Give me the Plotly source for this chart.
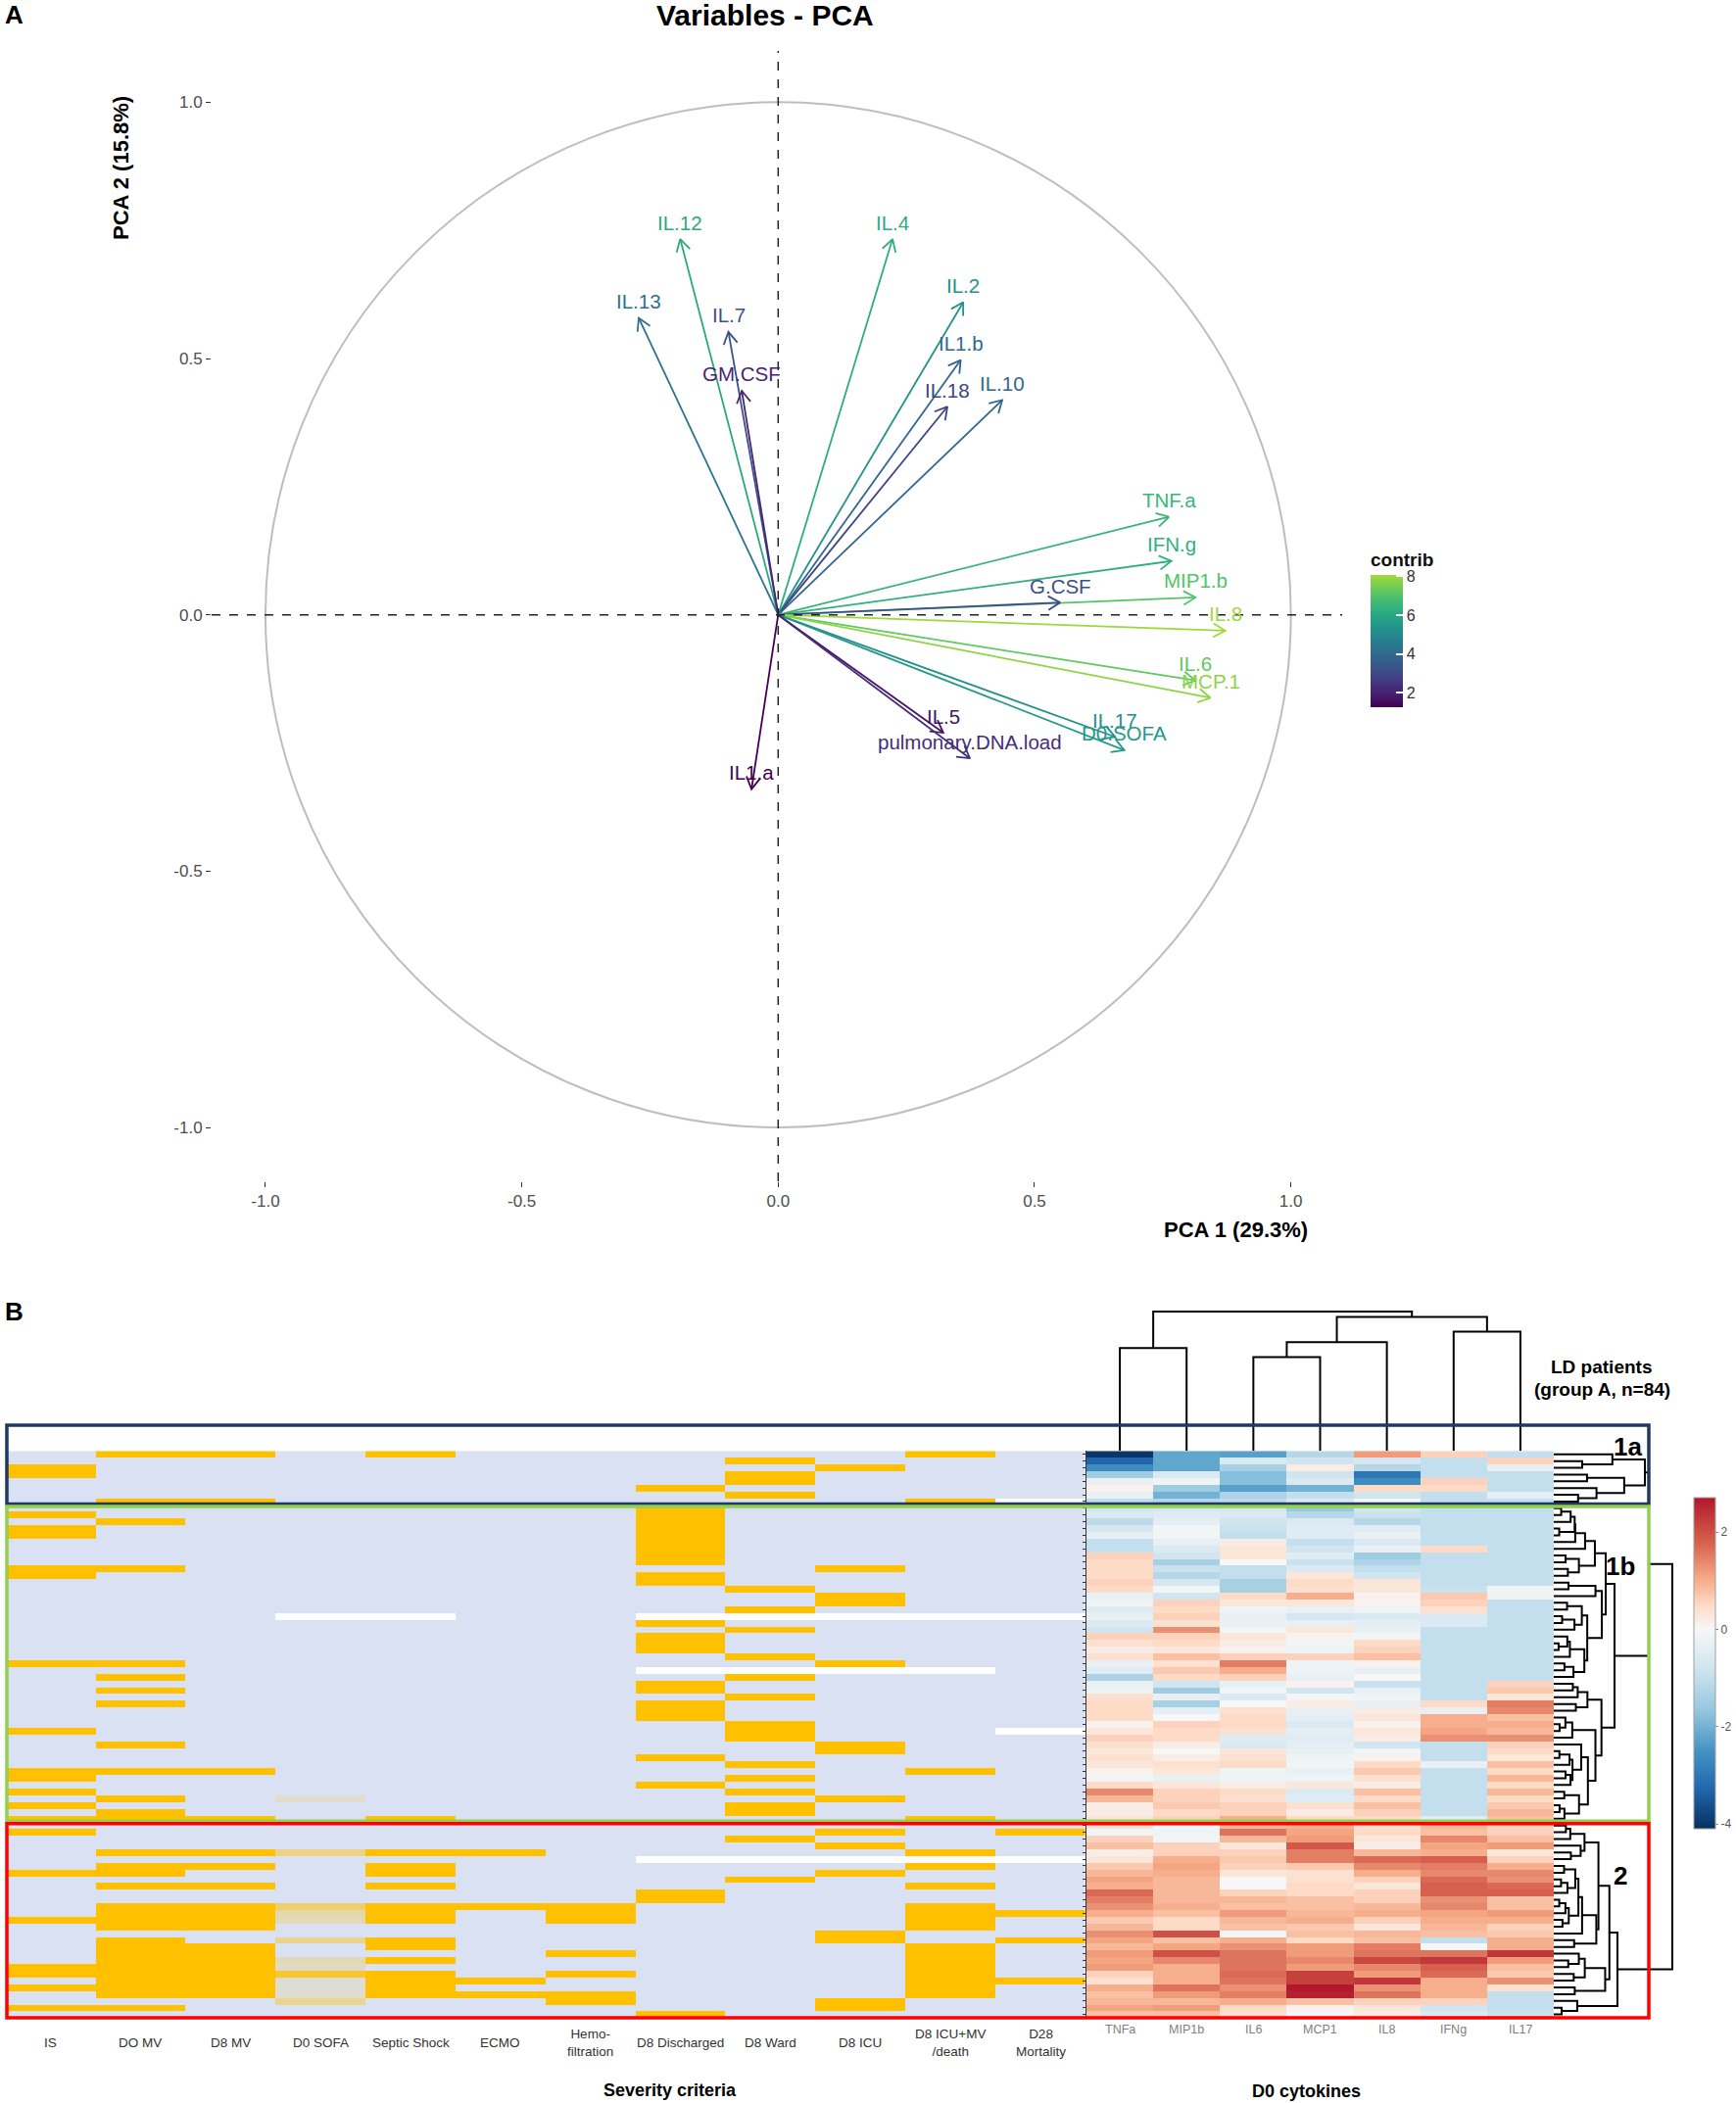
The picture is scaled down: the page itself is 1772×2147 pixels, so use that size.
import numpy as np
import plotly.graph_objects as go
from plotly.colors import sample_colorscale

W, H = 1772, 2147
FONT = "Liberation Sans, Arial, sans-serif"


def px(x):
    return x / W


def py(y):
    return 1 - y / H


# ---------------- Panel A : PCA variables ----------------
pca_vars = ["IL.12", "IL.4", "IL.2", "IL.13", "IL.7", "IL1.b", "GM.CSF", "IL.18", "IL.10",
            "TNF.a", "IFN.g", "MIP1.b", "G.CSF", "IL.8", "IL.6", "MCP.1", "IL.17", "D0.SOFA",
            "IL.5", "pulmonary.DNA.load", "IL1.a"]
pca_dim1 = [-0.191, 0.223, 0.361, -0.272, -0.097, 0.356, -0.071, 0.330, 0.437,
            0.762, 0.767, 0.814, 0.550, 0.872, 0.814, 0.843, 0.657, 0.675,
            0.322, 0.374, -0.052]
pca_dim2 = [0.733, 0.733, 0.610, 0.579, 0.552, 0.497, 0.437, 0.406, 0.419,
            0.191, 0.105, 0.034, 0.024, -0.031, -0.128, -0.162, -0.238, -0.264,
            -0.230, -0.280, -0.340]
pca_contrib = [6.1, 6.2, 5.3, 4.3, 3.3, 3.9, 2.1, 2.9, 3.9,
               6.5, 6.3, 7.0, 3.2, 8.0, 7.2, 7.8, 5.2, 5.5,
               1.7, 2.3, 1.25]
pca_ticks = [-1.0, -0.5, 0.0, 0.5, 1.0]
pca_ticktext = ["-1.0", "-0.5", "0.0", "0.5", "1.0"]
CMIN, CMAX = 1.25, 8.07

# ---------------- Panel B : heatmaps ----------------
severity_cols = ["IS", "DO MV", "D8 MV", "D0 SOFA", "Septic Shock", "ECMO", "Hemo-<br>filtration",
                 "D8 Discharged", "D8 Ward", "D8 ICU", "D8 ICU+MV<br>/death", "D28<br>Mortality"]
IS_pos = [2, 3, 9, 11, 12, 17, 18, 31, 41, 47, 48, 50, 52, 54, 56, 62, 69, 76, 77, 79, 82]
DOMV_pos = [0, 7, 10, 17, 31, 33, 35, 37, 43, 47, 51, 53, 54, 59, 61, 62, 64, 67, 68, 69, 70,
            72, 73, 74, 75, 76, 77, 78, 79, 80, 82]
D8MV_pos = [0, 7, 47, 54, 59, 61, 64, 67, 68, 69, 70, 73, 74, 75, 76, 77, 78, 79, 80]
D0SOFA_val = {51: 0.15, 59: 0.45, 67: 0.55, 68: 0.3, 69: 0.25, 72: 0.4, 75: 0.25, 76: 0.2,
              77: 0.8, 78: 0.12, 79: 0.12, 80: 0.15, 81: 0.4}
SEPTIC_pos = [0, 54, 59, 61, 62, 64, 67, 68, 69, 72, 73, 75, 77, 78, 79, 80]
ECMO_pos = [59, 67, 78, 80]
HEMO_pos = [67, 68, 69, 74, 77, 80, 81]
D8DISCH_pos = [5, 8, 9, 10, 11, 12, 13, 14, 15, 16, 18, 19, 25, 27, 28, 29, 34, 35, 37, 38, 39,
               45, 49, 65, 66, 83]
D8WARD_pos = [1, 3, 4, 6, 20, 23, 26, 30, 33, 36, 40, 41, 42, 46, 48, 50, 52, 53, 57, 63]
D8ICU_pos = [2, 17, 21, 22, 31, 43, 44, 51, 56, 58, 62, 71, 72, 81, 82]
D8ICUMV_pos = [0, 7, 47, 54, 59, 61, 64, 67, 68, 69, 70, 73, 74, 75, 76, 77, 78, 79, 80]
D28_pos = [56, 68, 72, 78]
missing_rows = {"D0 SOFA": [24], "Septic Shock": [24], "D8 Discharged": [24, 32, 60],
                "D8 Ward": [24, 32, 60], "D8 ICU": [24, 32, 60],
                "D8 ICU+MV<br>/death": [24, 32, 60], "D28<br>Mortality": [7, 24, 41, 60]}

cyto_cols = ["TNFa", "MIP1b", "IL6", "MCP1", "IL8", "IFNg", "IL17"]
TNFa = [-4.0, -3.3, -2.6, -1.5, -0.3, 0.1, -0.3, -1.0, -0.8, -0.6, -1.1, -0.7, -0.4, -1.0, -1.0,
        0.6, 0.5, 0.5, 0.5, 0.6, 0.5, -0.3, -0.2, -0.5, -0.3, -0.6, -0.8, 0.6, 0.4, 0.2, 0.4,
        -0.3, -0.5, -1.3, -0.3, -0.2, 0.4, 0.5, 0.5, 0.5, 0.1, 0.3, 0.6, 0.4, 0.3, 0.4, 0.3,
        0.1, -0.1, 0.5, 1.4, 0.9, 0.2, 0.2, 0.3, 0.4, -0.1, 0.6, 0.8, 0.2, 0.3, 0.7, 0.9, 1.1,
        1.0, 1.7, 1.5, 1.3, 1.0, 0.7, 0.9, 1.3, 1.1, 0.9, 1.2, 1.1, 1.2, 0.6, 0.4, 1.0, 0.8,
        0.9, 1.1, 0.8]
MIP1b = [-2.2, -2.2, -2.2, -0.6, -0.2, -1.5, -2.0, -1.2, -0.7, -0.5, -0.4, -0.1, -0.1, -0.3,
         -0.6, -0.8, -1.4, -0.9, -1.2, -0.7, -0.1, -0.8, 0.6, 0.5, 0.6, 0.4, 1.3, 0.6, 0.5, 0.3,
         0.8, 0.4, 0.7, 0.5, -0.8, -1.5, -0.3, -1.4, -0.4, 0.0, 0.6, 0.5, 0.5, 0.2, 0.0, 0.2,
         0.4, 0.3, -0.3, 0.3, 0.6, 0.6, 0.7, 0.5, 0.6, -0.1, -0.2, -0.1, 0.6, 0.6, 1.0, 1.1,
         1.0, 0.9, 0.9, 0.9, 0.9, 1.0, 0.8, 0.5, 0.5, 2.0, 0.8, 1.1, 2.0, 1.4, 1.0, 1.0, 1.0,
         1.6, 1.2, 0.9, 1.2, 0.8]
IL6 = [-2.3, -0.6, -1.4, -1.8, -1.8, -2.3, -1.3, -1.1, -0.7, -0.6, -0.8, -0.9, -1.0, 0.2, 0.3,
       0.3, 0.0, -1.0, -1.0, -1.4, -1.4, 0.5, 0.3, -0.2, -0.3, -0.3, -0.1, 0.3, 0.2, 0.1, 0.6,
       1.5, 1.0, 0.6, -0.3, -0.1, -0.6, 0.0, 0.4, 0.5, 0.5, 0.4, -0.5, -0.6, 0.3, 0.4, 0.5,
       -0.2, -0.2, 0.2, 0.5, 0.4, 0.6, 0.6, 1.0, 0.9, 1.6, 0.9, 0.3, 0.6, 0.7, 0.6, 0.3, 0.0,
       0.0, 0.6, 0.9, 0.8, 1.2, 0.9, 0.8, -0.1, 1.0, 1.3, 1.6, 1.6, 1.6, 1.7, 1.6, 1.3, 1.5,
       1.0, 0.5, 0.4]
MCP1 = [-1.2, -0.8, 0.2, -0.8, -0.6, -2.0, -1.0, -0.6, -1.6, -1.2, -0.6, -0.5, -0.5, -1.0,
        -0.8, -0.5, -0.9, -0.6, 0.3, 0.5, 0.4, 1.0, 0.3, -0.3, -0.7, -0.3, 0.3, 0.1, -0.1, -0.2,
        0.6, -0.2, -0.2, -0.3, 0.1, -0.8, -0.1, 0.2, -0.3, -0.4, -0.6, -0.4, -0.5, -0.4, -0.3,
        -0.2, -0.1, -0.3, -0.2, 0.3, -0.6, -0.5, 0.4, 0.2, 0.5, 1.0, 1.1, 1.2, 1.9, 1.5, 1.5,
        0.7, 0.4, 0.4, 0.5, 0.5, 0.8, 0.8, 0.9, 1.0, 0.7, 0.8, 0.5, 1.2, 1.2, 1.4, 1.2, 2.2,
        2.2, 2.8, 2.6, 0.8, 0.1, 0.0]
IL8 = [1.2, -0.7, -1.2, -3.0, -2.6, 0.5, -0.8, 0.0, -0.8, -0.9, -1.2, -0.5, -0.3, -0.6, -0.3,
       -1.5, -1.3, -1.0, -0.8, 0.3, 0.3, 0.1, 0.1, -0.2, -0.6, -0.4, -0.3, -0.1, 0.5, 0.6, 0.8,
       0.1, -0.3, 0.0, -0.9, -0.3, -0.2, -0.3, 0.2, 0.3, 0.1, 0.3, 0.2, -0.8, -0.1, 0.1, 0.5,
       0.7, 0.4, 0.2, 0.8, 0.5, 0.8, 0.6, 0.5, 0.4, 0.5, 0.3, 0.2, 0.9, 1.7, 1.4, 1.0, 0.6,
       0.3, 0.6, 0.6, 0.9, 1.0, 0.6, 0.3, 0.9, 0.8, 1.5, 1.6, 2.1, 1.4, 1.2, 2.3, 1.3, 1.6,
       0.6, 0.3, 0.2]
IFNg = [0.6, -1.0, -1.0, -1.0, 0.6, 0.5, -1.0, -1.0, -1.0, -1.0, -1.0, -1.0, -1.0, -1.0, 0.5,
        -1.0, -1.0, -1.0, -1.0, -1.0, -0.9, 0.7, 0.6, 0.4, -0.6, -0.6, -1.0, -1.0, -1.0, -1.0,
        -1.0, -1.0, -1.0, -1.0, -1.0, -1.0, -1.0, 0.5, -0.3, 1.0, 1.0, 1.1, 1.3, -1.0, -1.0,
        -1.0, -0.3, -1.0, -1.0, -1.0, -1.0, -1.0, -1.0, -1.0, -0.5, 0.9, 0.8, 1.4, 1.1, 1.0,
        1.8, 1.5, 1.4, 1.7, 1.8, 1.8, 1.3, 1.4, 1.1, 1.0, 0.9, 0.8, -1.0, 0.0, 1.6, 2.3, 1.8,
        1.7, 1.0, 1.0, 1.0, 0.6, -0.8, -0.6]
IL17 = [-1.0, 0.6, -0.3, -1.0, -1.0, -1.0, -0.4, -1.0, -1.0, -1.0, -1.0, -1.0, -1.0, -1.0,
        -1.0, -1.0, -1.0, -1.0, -1.0, -1.0, -0.2, -0.2, -1.0, -1.0, -1.0, -1.0, -1.0, -1.0,
        -1.0, -1.0, -1.0, -1.0, -1.0, -1.0, 0.6, 0.7, 0.3, 1.5, 1.4, 0.8, 1.0, 0.9, 1.3, 0.6,
        0.5, 0.3, 0.8, 0.5, 0.9, 0.5, 0.9, 0.5, 0.7, 0.9, 0.8, 0.6, 0.6, 0.8, 1.2, 0.3, 0.6,
        1.0, 1.4, 1.3, 1.7, 1.8, 0.8, 0.8, 1.2, 1.0, 0.6, 0.7, 1.0, 1.0, 2.3, 1.2, 0.8, 0.7,
        1.3, 0.4, -1.0, -1.0, -1.0, -0.9]
ZMIN, ZMAX = -4.1, 2.71

groups = ["1a", "1b", "2"]
group_rows = [(0, 7), (8, 54), (55, 83)]
group_colors = ["#1F3864", "#92D050", "#FF0000"]
group_root_height = [93.0, 62.0, 65.0]
merge_1a_1b_height = 97.0
top_height = 121.0

# column dendrogram (leaf indices into cyto_cols, merge heights)
col_tree = ((0, 1, 105.0), (((2, 3, 95.7), 4, 111.0), (5, 6, 121.7), 136.7), 142.4)

# ---------------- build matrices ----------------
NROW = len(TNFa)
sev_lists = [IS_pos, DOMV_pos, D8MV_pos, None, SEPTIC_pos, ECMO_pos, HEMO_pos,
             D8DISCH_pos, D8WARD_pos, D8ICU_pos, D8ICUMV_pos, D28_pos]
sev = np.zeros((NROW, len(severity_cols)))
for j, lst in enumerate(sev_lists):
    if lst is None:
        for r, v in D0SOFA_val.items():
            sev[r, j] = v
    else:
        sev[lst, j] = 1.0
for name, rows in missing_rows.items():
    sev[rows, severity_cols.index(name)] = np.nan
sev_z = [[None if np.isnan(v) else v for v in row] for row in sev]

cyto = np.array([TNFa, MIP1b, IL6, MCP1, IL8, IFNg, IL17]).T

# ---------------- dendrogram helpers ----------------
def ordered_tree(rows, data):
    nodes = list(rows)
    members = [[r] for r in rows]
    heights = [0.0] * len(rows)
    while len(nodes) > 1:
        best = None
        for i in range(len(nodes) - 1):
            d = max(np.linalg.norm(data[p] - data[q]) for p in members[i] for q in members[i + 1])
            if best is None or d < best[0]:
                best = (d, i)
        d, i = best
        h = max(d, heights[i], heights[i + 1])
        nodes[i:i + 2] = [(nodes[i], nodes[i + 1], h)]
        members[i:i + 2] = [members[i] + members[i + 1]]
        heights[i:i + 2] = [h]
    return nodes[0]


def scale_tree(node, f):
    if isinstance(node, int):
        return node
    return (scale_tree(node[0], f), scale_tree(node[1], f), node[2] * f)


def segments(node, out):
    if isinstance(node, int):
        return float(node), 0.0
    pl, hl = segments(node[0], out)
    pr, hr = segments(node[1], out)
    h = node[2]
    out.append([(hl, pl), (h, pl), (h, pr), (hr, pr)])
    return (pl + pr) / 2, h


subtrees = []
for (a, b), target in zip(group_rows, group_root_height):
    t = ordered_tree(list(range(a, b + 1)), cyto)
    subtrees.append(scale_tree(t, target / t[2]))
row_tree = ((subtrees[0], subtrees[1], merge_1a_1b_height), subtrees[2], top_height)

row_segs = []
segments(row_tree, row_segs)
col_segs = []
segments(col_tree, col_segs)

# ---------------- figure ----------------
fig = go.Figure()

# viridis as used by factoextra (ends on light green)
vir_stops = np.linspace(0, 1, 11)
vir_cols = sample_colorscale("Viridis", list(np.linspace(0, 0.86, 11)))
contrib_scale = [[float(s), c] for s, c in zip(vir_stops, vir_cols)]

# correlation circle
fig.add_shape(type="circle", xref="x", yref="y", x0=-1, y0=-1, x1=1, y1=1,
              line=dict(color="#BEBEBE", width=2), layer="below")
fig.add_hline(y=0, line=dict(color="#222222", width=1.5, dash="dash"), xref="x", yref="y")
fig.add_vline(x=0, line=dict(color="#222222", width=1.5, dash="dash"), xref="x", yref="y")

cols = sample_colorscale(contrib_scale, [(c - CMIN) / (CMAX - CMIN) for c in pca_contrib])
HEAD = 0.027
for name, x, y, c, col in zip(pca_vars, pca_dim1, pca_dim2, pca_contrib, cols):
    th = np.arctan2(y, x)
    h1 = (x - HEAD * np.cos(th + np.pi / 6), y - HEAD * np.sin(th + np.pi / 6))
    h2 = (x - HEAD * np.cos(th - np.pi / 6), y - HEAD * np.sin(th - np.pi / 6))
    fig.add_trace(go.Scatter(
        x=[0, x, None, h1[0], x, h2[0]], y=[0, y, None, h1[1], y, h2[1]],
        mode="lines", line=dict(color=col, width=1.8), hoverinfo="skip",
        showlegend=False, xaxis="x", yaxis="y"))
    fig.add_annotation(x=x, y=y, xref="x", yref="y", text=name, showarrow=False,
                       yshift=17, xanchor="center", yanchor="middle",
                       font=dict(family=FONT, size=20.5, color=col))

# invisible trace for contrib colour bar
fig.add_trace(go.Scatter(
    x=pca_dim1, y=pca_dim2, mode="markers", xaxis="x", yaxis="y", hoverinfo="skip",
    showlegend=False,
    marker=dict(size=0.1, opacity=0, color=pca_contrib, colorscale=contrib_scale,
                cmin=CMIN, cmax=CMAX, showscale=True,
                colorbar=dict(x=px(1399), xanchor="left", y=py(722), yanchor="bottom",
                              len=(722 - 561) / H, lenmode="fraction", thickness=33,
                              outlinewidth=0, tickvals=[2, 4, 6, 8], ticks="inside",
                              ticklen=7, tickcolor="white", tickwidth=1.5,
                              tickfont=dict(family=FONT, size=16, color="#333"),
                              xpad=0, ypad=0,
                              title=dict(text="<b>contrib</b>", side="top",
                                         font=dict(family=FONT, size=19, color="#111"))))))

# severity heatmap
fig.add_trace(go.Heatmap(
    z=sev_z, x=list(range(len(severity_cols))), y=list(range(NROW)),
    colorscale=[[0, "#DAE1F2"], [1, "#FFC000"]], zmin=0, zmax=1, showscale=False,
    hoverongaps=False, xaxis="x2", yaxis="y2"))

# cytokine heatmap
def t(v):
    return (v - ZMIN) / (ZMAX - ZMIN)


cyto_scale = [[t(-4.1), "#053061"], [t(-3.3), "#2166AC"], [t(-2.5), "#4393C3"],
              [t(-1.7), "#92C5DE"], [t(-0.8), "#D1E5F0"], [t(0.0), "#F7F7F7"],
              [t(0.5), "#FDDBC7"], [t(1.1), "#F4A582"], [t(1.8), "#D6604D"],
              [t(2.71), "#B2182B"]]
fig.add_trace(go.Heatmap(
    z=cyto, x=list(range(len(cyto_cols))), y=list(range(NROW)),
    colorscale=cyto_scale, zmin=ZMIN, zmax=ZMAX, xaxis="x3", yaxis="y3",
    colorbar=dict(x=px(1729), xanchor="left", y=py(1867), yanchor="bottom",
                  len=(1867 - 1529) / H, lenmode="fraction", thickness=22,
                  outlinecolor="#A0A0A0", outlinewidth=1, tickvals=[2, 0, -2, -4],
                  ticktext=["2", "0", "-2", "-4"], ticks="outside", ticklen=3,
                  tickcolor="#888", tickfont=dict(family=FONT, size=12, color="#555"),
                  xpad=0, ypad=0)))

# row dendrogram
rx, ry = [], []
for seg in row_segs:
    for (hh, pp) in seg:
        rx.append(hh)
        ry.append(pp)
    rx.append(None)
    ry.append(None)
fig.add_trace(go.Scatter(x=rx, y=ry, mode="lines", line=dict(color="black", width=2),
                         hoverinfo="skip", showlegend=False, xaxis="x4", yaxis="y4"))

# column dendrogram
cx, cy = [], []
for seg in col_segs:
    for (hh, pp) in seg:
        cx.append(pp)
        cy.append(hh)
    cx.append(None)
    cy.append(None)
fig.add_trace(go.Scatter(x=cx, y=cy, mode="lines", line=dict(color="black", width=2),
                         hoverinfo="skip", showlegend=False, xaxis="x5", yaxis="y5"))

# ---------------- axes ----------------
ROW_TOP, ROW_BOT = 1481.3, 2060.0
ydom_rows = [py(ROW_BOT), py(ROW_TOP)]
row_range = [NROW - 0.5, -0.5]


def row_edge_py(r):
    # pixel y of a (fractional) row boundary, from the row axis
    return ROW_TOP + (r + 0.5) / NROW * (ROW_BOT - ROW_TOP)


pca_axis = dict(range=[-1.105, 1.10], tickvals=pca_ticks, ticktext=pca_ticktext,
                ticks="outside", ticklen=5, tickwidth=1.2, tickcolor="#333",
                tickfont=dict(family=FONT, size=17, color="#4D4D4D"),
                showgrid=False, zeroline=False, showline=False)
blank = dict(showgrid=False, zeroline=False, showticklabels=False, ticks="")
fig.update_layout(
    width=W, height=H, margin=dict(l=0, r=0, t=0, b=0),
    paper_bgcolor="white", plot_bgcolor="white", showlegend=False,
    xaxis=dict(domain=[px(216), px(1370)], anchor="y", **pca_axis),
    yaxis=dict(domain=[py(1206), py(52)], anchor="x", **pca_axis),
    xaxis2=dict(domain=[px(5.7), px(1108)], range=[-0.5, len(severity_cols) - 0.5],
                anchor="y2", **blank),
    yaxis2=dict(domain=ydom_rows, range=row_range, anchor="x2", **blank),
    xaxis3=dict(domain=[px(1109), px(1586)], range=[-0.5, len(cyto_cols) - 0.5],
                anchor="y3", **blank),
    yaxis3=dict(domain=ydom_rows, range=row_range, anchor="x3", showgrid=False,
                zeroline=False, showticklabels=False, ticks="outside", ticklen=3,
                tickwidth=1, tickcolor="#333", tickvals=list(range(NROW)),
                showline=True, linecolor="#333", linewidth=1.2),
    xaxis4=dict(domain=[px(1586), px(1708)], range=[0, 122], anchor="y4", **blank),
    yaxis4=dict(domain=ydom_rows, range=row_range, anchor="x4", **blank),
    xaxis5=dict(domain=[px(1109), px(1586)], range=[-0.5, len(cyto_cols) - 0.5],
                anchor="y5", **blank),
    yaxis5=dict(domain=[py(ROW_TOP), py(1337)], range=[0, ROW_TOP - 1337], anchor="x5", **blank),
)

# group boxes
box_top = [1455.0, None, None]
for i, ((a, b), col) in enumerate(zip(group_rows, group_colors)):
    y0 = box_top[i] if box_top[i] is not None else row_edge_py(a - 0.5) + 1.5
    y1 = row_edge_py(b + 0.5) - (0 if i == 2 else 1.0)
    fig.add_shape(type="rect", xref="paper", yref="paper", x0=px(7), x1=px(1683),
                  y0=py(y1), y1=py(y0), line=dict(color=col, width=3.5), layer="above")

# group labels
group_label_pos = [(1661, 1477), (1654, 1599), (1654, 1915)]
for g, (gx, gy) in zip(groups, group_label_pos):
    fig.add_annotation(x=px(gx), y=py(gy), xref="paper", yref="paper", text="<b>%s</b>" % g,
                       showarrow=False, xanchor="center", yanchor="middle",
                       font=dict(family=FONT, size=26, color="black"))

# column labels
for j, name in enumerate(severity_cols):
    fig.add_annotation(x=j, y=py(2085), xref="x2", yref="paper", text=name, showarrow=False,
                       xanchor="center", yanchor="middle",
                       font=dict(family=FONT, size=13.5, color="#333"))
for j, name in enumerate(cyto_cols):
    fig.add_annotation(x=j, y=py(2072), xref="x3", yref="paper", text=name, showarrow=False,
                       xanchor="center", yanchor="middle",
                       font=dict(family=FONT, size=12.5, color="#808080"))

# titles and labels
texts = [
    ("<b>A</b>", 14, 15, 26, 0),
    ("<b>B</b>", 14, 1339, 26, 0),
    ("<b>Variables - PCA</b>", 781, 15, 30, 0),
    ("<b>PCA 1 (29.3%)</b>", 1261, 1255, 22, 0),
    ("<b>PCA 2 (15.8%)</b>", 123, 171, 22, -90),
    ("<b>LD patients</b>", 1634, 1395, 19, 0),
    ("<b>(group A, n=84)</b>", 1635, 1418, 19, 0),
    ("<b>Severity criteria</b>", 684, 2134, 18, 0),
    ("<b>D0 cytokines</b>", 1333, 2135, 18, 0),
]
for txt, tx, ty, size, ang in texts:
    fig.add_annotation(x=px(tx), y=py(ty), xref="paper", yref="paper", text=txt,
                       showarrow=False, textangle=ang, xanchor="center", yanchor="middle",
                       font=dict(family=FONT, size=size, color="black"))

fig.write_html("out.html", config={"displayModeBar": False},
               post_script="document.body.style.margin='0px';document.body.style.overflow='hidden';")
